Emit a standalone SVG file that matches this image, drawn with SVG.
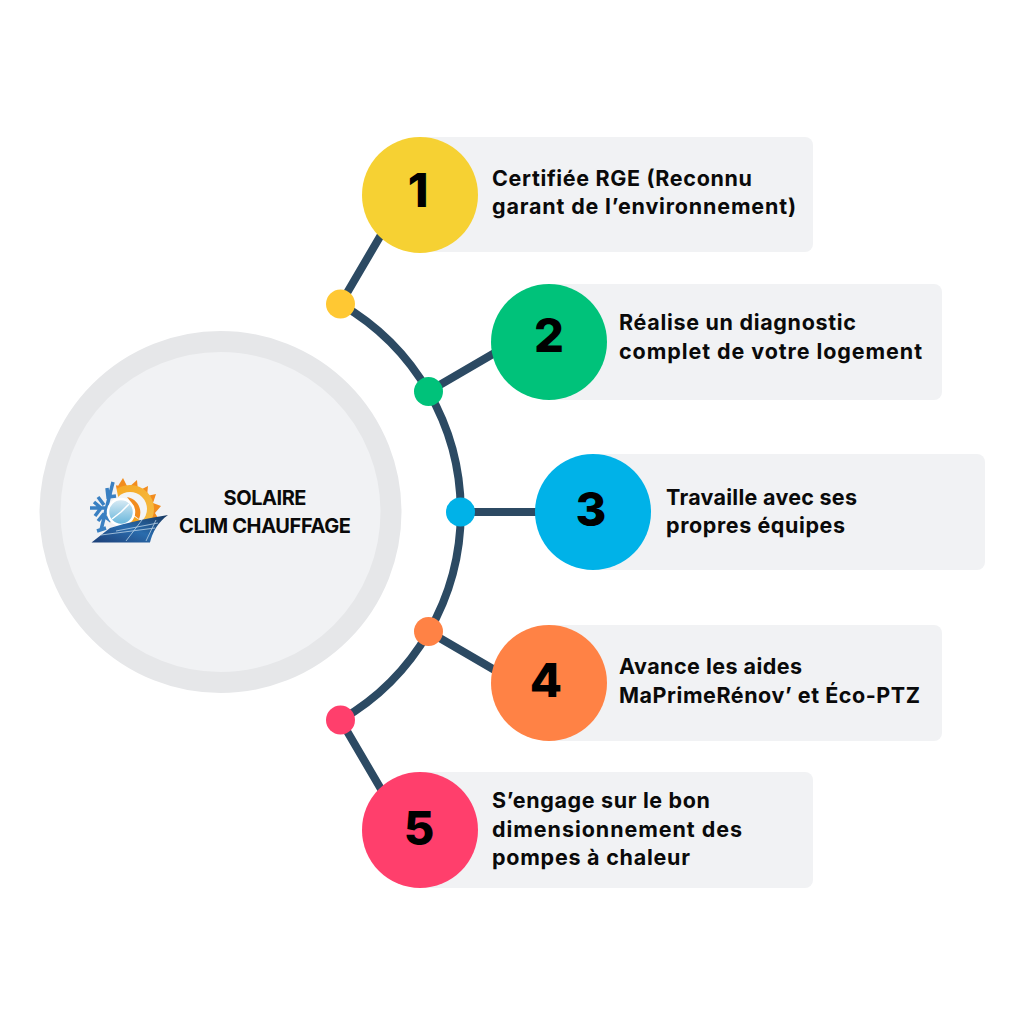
<svg xmlns="http://www.w3.org/2000/svg" width="1024" height="1024" viewBox="0 0 1024 1024">
<defs>
<linearGradient id="panel" x1="0" y1="1" x2="1" y2="0"><stop offset="0" stop-color="#1d3f77"/><stop offset=".5" stop-color="#2a6cad"/><stop offset="1" stop-color="#17375f"/></linearGradient>
<linearGradient id="sun" x1="0" y1="0" x2="1" y2="1"><stop offset="0" stop-color="#f5a51f"/><stop offset="1" stop-color="#f6c04a"/></linearGradient>
<linearGradient id="fan" x1="0" y1="0" x2="0" y2="1"><stop offset="0" stop-color="#dcecf5"/><stop offset="1" stop-color="#63b4da"/></linearGradient>
</defs>
<style>
.card{fill:#f1f2f4}
.conn{fill:none;stroke:#2c4a63;stroke-width:8}
.num{font-family:"Inter","Liberation Sans",sans-serif;font-weight:800;font-size:47px;fill:#000;text-anchor:middle}
.t{font-family:"Inter","Liberation Sans",sans-serif;font-weight:700;font-size:21.5px;fill:#0a0a0a}
.h{font-family:"Inter","Liberation Sans",sans-serif;font-weight:700;font-size:20px;fill:#0a0a0a;text-anchor:middle}
.snow{fill:none;stroke:#3a80c2;stroke-width:3.500}
</style>
<rect width="1024" height="1024" fill="#fff"/>
<g id="hub">
<circle cx="220.500" cy="512" r="170.500" fill="#f1f2f4" stroke="#e6e7e9" stroke-width="21"/>
<g id="logo">
<path d="M112 480L118 486L123 478L128 488L137 480L138 491L148 486L147 496L156 494L153 503L161 506L155 513L158 518L118 528L120 500Z" fill="#f28c1e"/>
<circle cx="130" cy="509" r="24" fill="url(#sun)"/>
<circle cx="130" cy="509" r="17" fill="#f3f4f5"/>
<path d="M116 486L122 478H104L112 535H128L122 517Z" fill="#f1f2f4"/>
<path d="M127 497C138 499 143 510 139 519L130 512C134 508 132 503 127 497Z" fill="#f28c1e"/>
<path d="M127 512L141 521L129 525Z" fill="#f5a51f"/>
<path class="snow" d="M90 508H118M113 482L101 530M94 502L101 508L95 516M98 497L104 505M107 488L108 497L116 496M98 521L103 515L111 521M97 531L106 528"/>
<circle cx="121" cy="512" r="13" fill="url(#fan)" stroke="#fff" stroke-width="2.500"/>
<path d="M121 512L129 504M121 512L112 519" stroke="#fff" stroke-width="1.500"/>
<path d="M91.500 542.500L110 528C125 523 150 518 168 515C158 522 152 533 150 542.500Z" fill="url(#panel)"/>
<path d="M101 535L155 528M116 531L158 523M126 541L142 520M146 541L156 520" stroke="#b9d2e6" stroke-width=".8" fill="none"/>
</g>
<text class="h" x="265" y="504.500" textLength="83">SOLAIRE</text>
<text class="h" x="265" y="533" textLength="172">CLIM CHAUFFAGE</text>
</g>
<g id="connectors">
<path class="conn" d="M340.500 304A240 240 0 0 1 340.500 720"/>
<path class="conn" d="M340.500 304L395 211M428.500 391.500L510 344M460.500 512H560M428.500 631.500L510 679M340.500 720L395 813"/>
</g>
<g id="node1"><rect class="card" x="420" y="137" width="393" height="115" rx="8"/><circle cx="420" cy="195" r="58" fill="#f6d133"/><text class="num" x="418" y="207">1</text><text class="t" x="492" y="186" textLength="260">Certifiée RGE (Reconnu</text><text class="t" x="492" y="214" textLength="304">garant de l’environnement)</text></g>
<g id="node2"><rect class="card" x="549" y="284" width="393" height="116" rx="8"/><circle cx="549" cy="342" r="58" fill="#00c27a"/><text class="num" x="549" y="352">2</text><text class="t" x="619" y="330" textLength="237">Réalise un diagnostic</text><text class="t" x="619" y="359" textLength="303">complet de votre logement</text></g>
<g id="node3"><rect class="card" x="592" y="454" width="393" height="116" rx="8"/><circle cx="593" cy="512" r="58" fill="#00b2e8"/><text class="num" x="591" y="526">3</text><text class="t" x="666" y="505" textLength="191">Travaille avec ses</text><text class="t" x="666" y="533" textLength="179">propres équipes</text></g>
<g id="node4"><rect class="card" x="549" y="625" width="393" height="116" rx="8"/><circle cx="549" cy="683" r="58" fill="#ff8245"/><text class="num" x="546" y="697">4</text><text class="t" x="619" y="674" textLength="183">Avance les aides</text><text class="t" x="619" y="703" textLength="301">MaPrimeRénov’ et Éco-PTZ</text></g>
<g id="node5"><rect class="card" x="420" y="772" width="393" height="116" rx="8"/><circle cx="420" cy="830" r="58" fill="#ff3f6c"/><text class="num" x="419" y="845">5</text><text class="t" x="492" y="808" textLength="218">S’engage sur le bon</text><text class="t" x="492" y="837" textLength="250">dimensionnement des</text><text class="t" x="492" y="865" textLength="198">pompes à chaleur</text></g>
<g id="dots">
<circle cx="340.500" cy="304" r="14.500" fill="#ffc833"/>
<circle cx="428.500" cy="391.500" r="14.500" fill="#00c27a"/>
<circle cx="460.500" cy="512" r="14.500" fill="#00b2e8"/>
<circle cx="428.500" cy="631.500" r="14.500" fill="#ff8245"/>
<circle cx="340.500" cy="720" r="14.500" fill="#ff3f6c"/>
</g>
</svg>
